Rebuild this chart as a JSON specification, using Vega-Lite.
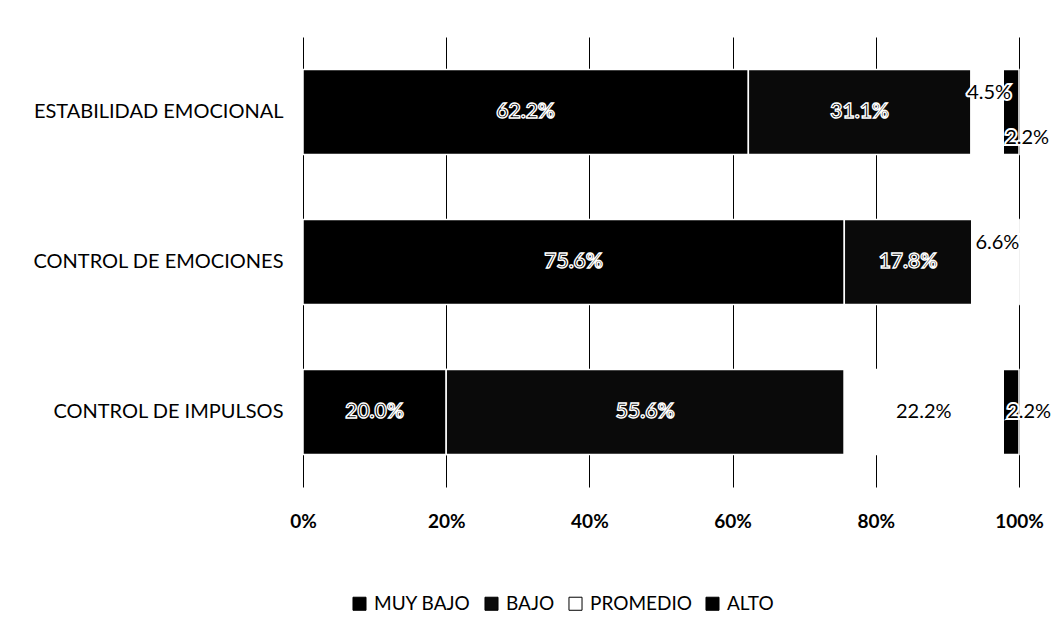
{
  "$schema": "https://vega.github.io/schema/vega-lite/v6.json",
  "autosize": "none",
  "width": 716,
  "height": 450,
  "padding": {"left": 303, "top": 37, "right": 43, "bottom": 136},
  "background": "white",
  "config": {
    "view": {"stroke": null},
    "font": "Lato"
  },
  "data": {
    "values": [
      {"dim": "ESTABILIDAD EMOCIONAL", "nivel": "MUY BAJO", "k": 1, "pct": 62.2},
      {"dim": "ESTABILIDAD EMOCIONAL", "nivel": "BAJO", "k": 2, "pct": 31.1},
      {"dim": "ESTABILIDAD EMOCIONAL", "nivel": "PROMEDIO", "k": 3, "pct": 4.5},
      {"dim": "ESTABILIDAD EMOCIONAL", "nivel": "ALTO", "k": 4, "pct": 2.2},
      {"dim": "CONTROL DE EMOCIONES", "nivel": "MUY BAJO", "k": 1, "pct": 75.6},
      {"dim": "CONTROL DE EMOCIONES", "nivel": "BAJO", "k": 2, "pct": 17.8},
      {"dim": "CONTROL DE EMOCIONES", "nivel": "PROMEDIO", "k": 3, "pct": 6.6},
      {"dim": "CONTROL DE EMOCIONES", "nivel": "ALTO", "k": 4, "pct": 0},
      {"dim": "CONTROL DE IMPULSOS", "nivel": "MUY BAJO", "k": 1, "pct": 20.0},
      {"dim": "CONTROL DE IMPULSOS", "nivel": "BAJO", "k": 2, "pct": 55.6},
      {"dim": "CONTROL DE IMPULSOS", "nivel": "PROMEDIO", "k": 3, "pct": 22.2},
      {"dim": "CONTROL DE IMPULSOS", "nivel": "ALTO", "k": 4, "pct": 2.2}
    ]
  },
  "transform": [
    {"stack": "pct", "groupby": ["dim"], "sort": [{"field": "k", "order": "ascending"}], "as": ["x0", "x1"]},
    {"calculate": "(datum.x0 + datum.x1) / 2", "as": "mid"},
    {"calculate": "format(datum.pct, '.1f') + '%'", "as": "lbl"}
  ],
  "encoding": {
    "y": {
      "field": "dim",
      "type": "nominal",
      "sort": ["ESTABILIDAD EMOCIONAL", "CONTROL DE EMOCIONES", "CONTROL DE IMPULSOS"],
      "scale": {"paddingInner": 0.433, "paddingOuter": 0.217},
      "axis": {
        "title": null,
        "ticks": false,
        "domain": false,
        "labelFont": "Lato",
        "labelFontSize": 20,
        "labelColor": "black",
        "labelPadding": 20,
        "labelLimit": 0
      }
    }
  },
  "layer": [
    {
      "mark": {"type": "bar", "stroke": "white", "strokeWidth": 1.5},
      "encoding": {
        "x": {
          "field": "x0",
          "type": "quantitative",
          "scale": {"domain": [0, 100], "nice": false},
          "axis": {
            "title": null,
            "values": [0, 20, 40, 60, 80, 100],
            "labelExpr": "datum.value + '%'",
            "grid": true,
            "gridColor": "black",
            "gridOpacity": 1,
            "gridWidth": 1,
            "ticks": false,
            "domain": false,
            "labelFont": "Lato",
            "labelFontSize": 19,
            "labelFontWeight": "bold",
            "labelColor": "black",
            "labelPadding": 25,
            "labelFlush": false
          }
        },
        "x2": {"field": "x1"},
        "color": {
          "field": "nivel",
          "type": "nominal",
          "scale": {
            "domain": ["MUY BAJO", "BAJO", "PROMEDIO", "ALTO"],
            "range": ["#000000", "#0a0a0a", "#ffffff", "#000000"]
          },
          "legend": {
            "title": null,
            "orient": "none",
            "direction": "horizontal",
            "legendX": 47,
            "legendY": 557,
            "symbolType": "square",
            "symbolSize": 170,
            "symbolStrokeColor": "black",
            "symbolStrokeWidth": 1,
            "symbolOpacity": 1,
            "labelFont": "Lato",
            "labelFontSize": 19,
            "labelColor": "black",
            "labelOffset": 5,
            "columnPadding": 11
          }
        }
      }
    },
    {
      "transform": [{"filter": "datum.k <= 2"}],
      "mark": {"type": "text", "fontSize": 21, "fill": "black", "stroke": "white", "strokeWidth": 1.4, "font": "Lato", "fontWeight": "bold"},
      "encoding": {
        "x": {"field": "mid", "type": "quantitative"},
        "text": {"field": "lbl"}
      }
    },
    {
      "transform": [{"filter": "datum.k == 3 && datum.pct < 10"}],
      "mark": {"type": "text", "fontSize": 20, "fill": "black", "stroke": "white", "strokeWidth": 4, "font": "Lato", "dx": 2, "dy": -19},
      "encoding": {
        "x": {"field": "mid", "type": "quantitative"},
        "text": {"field": "lbl"}
      }
    },
    {
      "transform": [{"filter": "datum.k == 3 && datum.pct < 10"}],
      "mark": {"type": "text", "fontSize": 20, "fill": "black", "font": "Lato", "dx": 2, "dy": -19},
      "encoding": {
        "x": {"field": "mid", "type": "quantitative"},
        "text": {"field": "lbl"}
      }
    },
    {
      "transform": [{"filter": "datum.k == 3 && datum.pct >= 10"}],
      "mark": {"type": "text", "fontSize": 20, "fill": "black", "font": "Lato"},
      "encoding": {
        "x": {"field": "mid", "type": "quantitative"},
        "text": {"field": "lbl"}
      }
    },
    {
      "transform": [{"filter": "datum.k == 4 && datum.pct > 0 && datum.dim == 'ESTABILIDAD EMOCIONAL'"}],
      "mark": {"type": "text", "fontSize": 20, "fill": "black", "stroke": "white", "strokeWidth": 4, "font": "Lato", "dx": 16, "dy": 26},
      "encoding": {
        "x": {"field": "mid", "type": "quantitative"},
        "text": {"field": "lbl"}
      }
    },
    {
      "transform": [{"filter": "datum.k == 4 && datum.pct > 0 && datum.dim == 'ESTABILIDAD EMOCIONAL'"}],
      "mark": {"type": "text", "fontSize": 20, "fill": "black", "font": "Lato", "dx": 16, "dy": 26},
      "encoding": {
        "x": {"field": "mid", "type": "quantitative"},
        "text": {"field": "lbl"}
      }
    },
    {
      "transform": [{"filter": "datum.k == 4 && datum.pct > 0 && datum.dim != 'ESTABILIDAD EMOCIONAL'"}],
      "mark": {"type": "text", "fontSize": 20, "fill": "black", "stroke": "white", "strokeWidth": 4, "font": "Lato", "dx": 18},
      "encoding": {
        "x": {"field": "mid", "type": "quantitative"},
        "text": {"field": "lbl"}
      }
    },
    {
      "transform": [{"filter": "datum.k == 4 && datum.pct > 0 && datum.dim != 'ESTABILIDAD EMOCIONAL'"}],
      "mark": {"type": "text", "fontSize": 20, "fill": "black", "font": "Lato", "dx": 18},
      "encoding": {
        "x": {"field": "mid", "type": "quantitative"},
        "text": {"field": "lbl"}
      }
    }
  ]
}
